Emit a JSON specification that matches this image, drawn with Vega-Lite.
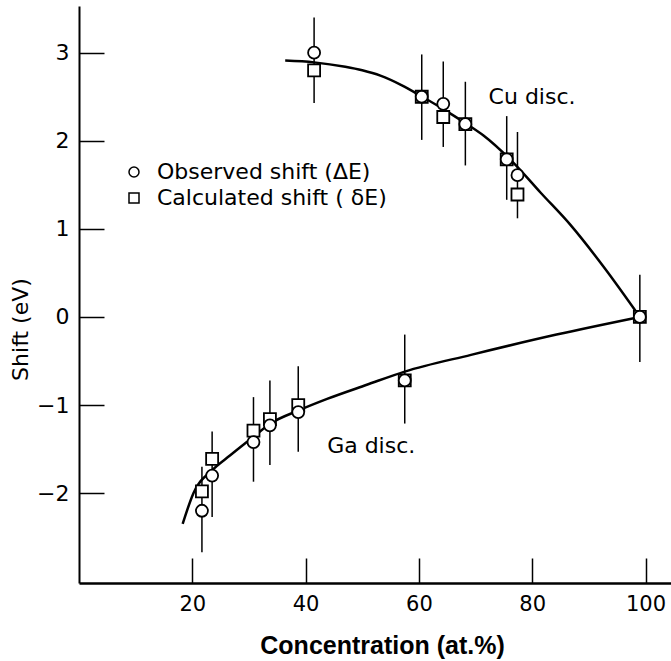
{
  "$schema": "https://vega.github.io/schema/vega-lite/v6.json",
  "width": 592,
  "height": 577,
  "autosize": {"type": "none"},
  "padding": {"left": 79, "top": 6, "right": 0, "bottom": 78},
  "background": "white",
  "config": {
    "view": {"stroke": null},
    "axis": {"labelFont": "DejaVu Sans", "titleFont": "DejaVu Sans", "labelColor": "black", "titleColor": "black", "domainColor": "black", "tickColor": "black", "grid": false},
    "text": {"font": "DejaVu Sans"}
  },
  "datasets": {
    "cuCurve": [
      {"c": 36.4, "shift": 2.91}, {"c": 41.5, "shift": 2.89}, {"c": 47.0, "shift": 2.84},
      {"c": 50.0, "shift": 2.8}, {"c": 53.2, "shift": 2.74}, {"c": 57.0, "shift": 2.63},
      {"c": 60.6, "shift": 2.5}, {"c": 64.3, "shift": 2.36},
      {"c": 68.2, "shift": 2.2}, {"c": 71.4, "shift": 2.06}, {"c": 76.7, "shift": 1.75},
      {"c": 81.5, "shift": 1.41}, {"c": 86.75, "shift": 1.045}, {"c": 92.6, "shift": 0.57},
      {"c": 99.0, "shift": 0.0}
    ],
    "gaCurve": [
      {"c": 18.3, "shift": -2.35}, {"c": 20.2, "shift": -2.0}, {"c": 23.5, "shift": -1.74},
      {"c": 26.7, "shift": -1.57}, {"c": 30.8, "shift": -1.36}, {"c": 33.8, "shift": -1.21},
      {"c": 38.8, "shift": -1.06}, {"c": 43.8, "shift": -0.93}, {"c": 50.8, "shift": -0.77},
      {"c": 57.5, "shift": -0.62}, {"c": 69.2, "shift": -0.43}, {"c": 84.3, "shift": -0.2},
      {"c": 99.0, "shift": 0.0}
    ],
    "errors": [
      {"c": 41.5, "hi": 3.4, "lo": 2.43},
      {"c": 60.5, "hi": 2.98, "lo": 2.01},
      {"c": 64.3, "hi": 2.9, "lo": 1.93},
      {"c": 68.2, "hi": 2.67, "lo": 1.72},
      {"c": 75.5, "hi": 2.28, "lo": 1.33},
      {"c": 77.4, "hi": 2.1, "lo": 1.12},
      {"c": 99.0, "hi": 0.48, "lo": -0.51},
      {"c": 21.7, "hi": -1.7, "lo": -2.67},
      {"c": 23.5, "hi": -1.3, "lo": -2.27},
      {"c": 30.8, "hi": -0.91, "lo": -1.87},
      {"c": 33.7, "hi": -0.72, "lo": -1.68},
      {"c": 38.7, "hi": -0.56, "lo": -1.53},
      {"c": 57.5, "hi": -0.2, "lo": -1.21}
    ],
    "points": [
      {"c": 41.5, "shift": 2.8, "type": "Calculated shift ( δE)"},
      {"c": 60.5, "shift": 2.5, "type": "Calculated shift ( δE)"},
      {"c": 64.3, "shift": 2.27, "type": "Calculated shift ( δE)"},
      {"c": 68.2, "shift": 2.19, "type": "Calculated shift ( δE)"},
      {"c": 75.5, "shift": 1.79, "type": "Calculated shift ( δE)"},
      {"c": 77.4, "shift": 1.39, "type": "Calculated shift ( δE)"},
      {"c": 99.0, "shift": 0.0, "type": "Calculated shift ( δE)"},
      {"c": 21.7, "shift": -1.98, "type": "Calculated shift ( δE)"},
      {"c": 23.5, "shift": -1.61, "type": "Calculated shift ( δE)"},
      {"c": 30.8, "shift": -1.29, "type": "Calculated shift ( δE)"},
      {"c": 33.7, "shift": -1.16, "type": "Calculated shift ( δE)"},
      {"c": 38.7, "shift": -1.0, "type": "Calculated shift ( δE)"},
      {"c": 57.5, "shift": -0.72, "type": "Calculated shift ( δE)"},
      {"c": 41.5, "shift": 3.0, "type": "Observed shift (ΔE)"},
      {"c": 60.5, "shift": 2.5, "type": "Observed shift (ΔE)"},
      {"c": 64.3, "shift": 2.42, "type": "Observed shift (ΔE)"},
      {"c": 68.2, "shift": 2.19, "type": "Observed shift (ΔE)"},
      {"c": 75.5, "shift": 1.79, "type": "Observed shift (ΔE)"},
      {"c": 77.4, "shift": 1.61, "type": "Observed shift (ΔE)"},
      {"c": 99.0, "shift": 0.0, "type": "Observed shift (ΔE)"},
      {"c": 21.7, "shift": -2.2, "type": "Observed shift (ΔE)"},
      {"c": 23.5, "shift": -1.8, "type": "Observed shift (ΔE)"},
      {"c": 30.8, "shift": -1.42, "type": "Observed shift (ΔE)"},
      {"c": 33.7, "shift": -1.23, "type": "Observed shift (ΔE)"},
      {"c": 38.7, "shift": -1.08, "type": "Observed shift (ΔE)"},
      {"c": 57.5, "shift": -0.72, "type": "Observed shift (ΔE)"}
    ],
    "labels": [
      {"c": 72.3, "shift": 2.5, "label": "Cu disc."},
      {"c": 43.8, "shift": -1.47, "label": "Ga disc."}
    ]
  },
  "encoding": {
    "x": {
      "field": "c", "type": "quantitative",
      "scale": {"domain": [0, 104.5], "nice": false, "zero": false},
      "axis": {
        "values": [20, 40, 60, 80, 100],
        "title": "Concentration (at.%)",
        "titleFont": "Liberation Sans", "titleFontWeight": "bold", "titleFontSize": 25, "titleColor": "black",
        "titleX": 303, "titleY": 70, "titleBaseline": "alphabetic", "titleAlign": "center",
        "labelFontSize": 21, "labelPadding": 35,
        "tickSize": -25, "tickWidth": 1.5, "domainWidth": 2.5
      }
    },
    "y": {
      "field": "shift", "type": "quantitative",
      "scale": {"domain": [-3.02, 3.53], "nice": false, "zero": false},
      "axis": {
        "values": [-2, -1, 0, 1, 2, 3],
        "title": "Shift (eV)",
        "titleFontSize": 22, "titleFontWeight": "normal", "titleColor": "black",
        "titleX": -59, "titleY": 323, "titleBaseline": "middle", "titleAlign": "center", "titleAngle": -90,
        "labelFontSize": 22, "labelPadding": 35,
        "tickSize": -25, "tickWidth": 1.5, "domainWidth": 2
      }
    }
  },
  "layer": [
    {
      "mark": {"type": "rule", "strokeDash": [12, 7], "strokeWidth": 2, "color": "black"},
      "encoding": {"y": {"datum": 0}, "x": null}
    },
    {
      "mark": {"type": "rule", "strokeWidth": 3, "color": "black"},
      "encoding": {"y": {"datum": 3.53}, "x": null}
    },
    {
      "data": {"name": "cuCurve"},
      "mark": {"type": "line", "interpolate": "monotone", "color": "black", "strokeWidth": 2.5}
    },
    {
      "data": {"name": "gaCurve"},
      "mark": {"type": "line", "interpolate": "monotone", "color": "black", "strokeWidth": 2.5}
    },
    {
      "data": {"name": "errors"},
      "mark": {"type": "rule", "color": "black", "strokeWidth": 1.5},
      "encoding": {"y": {"field": "hi", "type": "quantitative"}, "y2": {"field": "lo"}}
    },
    {
      "data": {"name": "points"},
      "mark": {"type": "point", "filled": false, "fill": "white", "fillOpacity": 1, "stroke": "black", "strokeWidth": 1.8, "opacity": 1, "size": 144},
      "encoding": {
        "shape": {
          "field": "type", "type": "nominal",
          "scale": {"domain": ["Observed shift (ΔE)", "Calculated shift ( δE)"], "range": ["circle", "square"]},
          "legend": {
            "title": null, "orient": "none", "legendX": 44, "legendY": 155,
            "labelFont": "DejaVu Sans", "labelFontSize": 22, "labelColor": "black",
            "labelOffset": 12, "rowPadding": 4, "labelLimit": 500,
            "symbolSize": 100,
            "encode": {
              "symbols": {
                "update": {
                  "stroke": {"value": "black"},
                  "fill": {"value": "white"},
                  "strokeWidth": {"value": 1.5},
                  "opacity": {"value": 1},
                  "fillOpacity": {"value": 1},
                  "strokeOpacity": {"value": 1}
                }
              }
            }
          }
        }
      }
    },
    {
      "data": {"name": "labels"},
      "mark": {"type": "text", "align": "left", "baseline": "middle", "fontSize": 22, "color": "black", "font": "DejaVu Sans"},
      "encoding": {"text": {"field": "label"}}
    }
  ]
}
